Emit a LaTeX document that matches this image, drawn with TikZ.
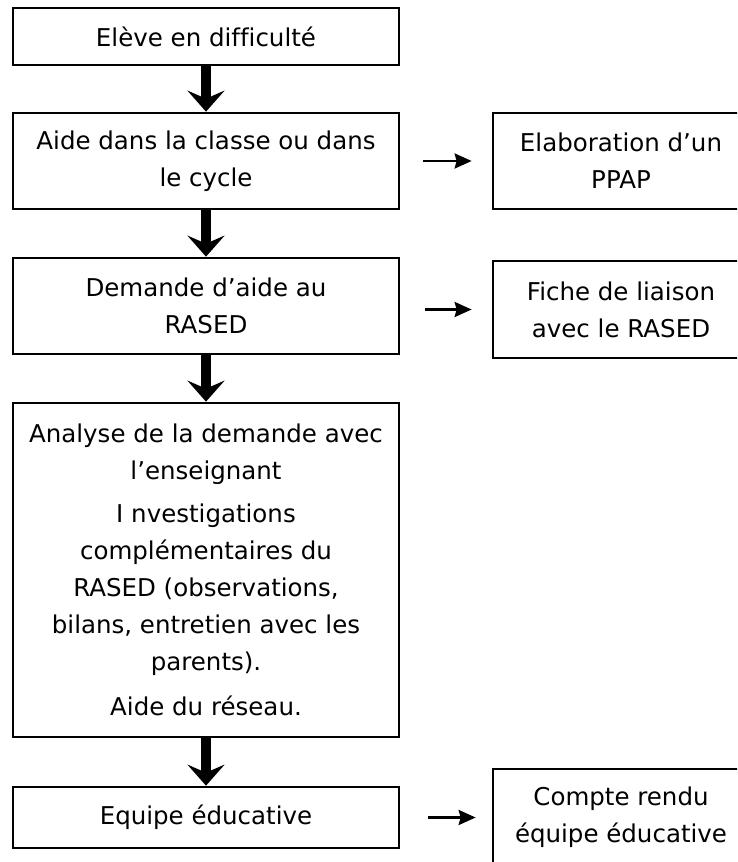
\documentclass[tikz,border=0pt]{standalone}
\usepackage{fontspec}
\setmainfont{DejaVu Sans}[Ligatures=CommonOff]
\usetikzlibrary{arrows.meta}
\begin{document}
\begin{tikzpicture}[x=1pt,y=-1pt,
  box/.style={draw, line width=2.7pt, align=center, inner sep=0pt,
    font=\fontsize{24.5}{37}\selectfont},
  leftbox/.style={box, minimum width=386pt},
  rightbox/.style={box, minimum width=256pt},
  bigarrow/.style={line width=9.5pt, -{Stealth[length=21pt,width=37pt,inset=8pt]}},
  smallarrow/.style={line width=2.4pt, -{Stealth[length=17pt,width=15pt,inset=2pt]}}]
\useasboundingbox (0,0) rectangle (737,862);
\clip (0,0) rectangle (737,862);

\node[leftbox, minimum height=57pt] (n1) at (206,36.5) {Elève en difficulté};
\node[leftbox, minimum height=96pt] (n2) at (206,161) {Aide dans la classe ou dans\\le cycle};
\node[leftbox, minimum height=96pt] (n3) at (206,306) {Demande d’aide au\\RASED};
\node[leftbox, minimum height=334pt] (n4) at (206,570) {Analyse de la demande avec\\l’enseignant\\[6pt]I nvestigations\\complémentaires du\\RASED (observations,\\bilans, entretien avec les\\parents).\\[8pt]Aide du réseau.};
\node[leftbox, minimum height=61pt] (n5) at (206,817.5) {Equipe éducative};

\node[rightbox, minimum height=96pt] (r1) at (621,161) {Elaboration d’un\\PPAP};
\node[rightbox, minimum height=97pt] (r2) at (621,309.5) {Fiche de liaison\\avec le RASED};
\node[rightbox, minimum height=97pt] (r3) at (621,817.5) {Compte rendu\\équipe éducative};

\draw[bigarrow] (n1.south) -- (n2.north);
\draw[bigarrow] (n2.south) -- (n3.north);
\draw[bigarrow] (n3.south) -- (n4.north);
\draw[bigarrow] (n4.south) -- (n5.north);

\draw[smallarrow, shorten <=23pt, shorten >=20pt] (n2.east) -- (r1.west);
\draw[smallarrow, shorten <=25pt, shorten >=20pt] (n3.east |- r2.west) -- (r2.west);
\draw[smallarrow, shorten <=28pt, shorten >=16pt] (n5.east) -- (r3.west);
\end{tikzpicture}
\end{document}
